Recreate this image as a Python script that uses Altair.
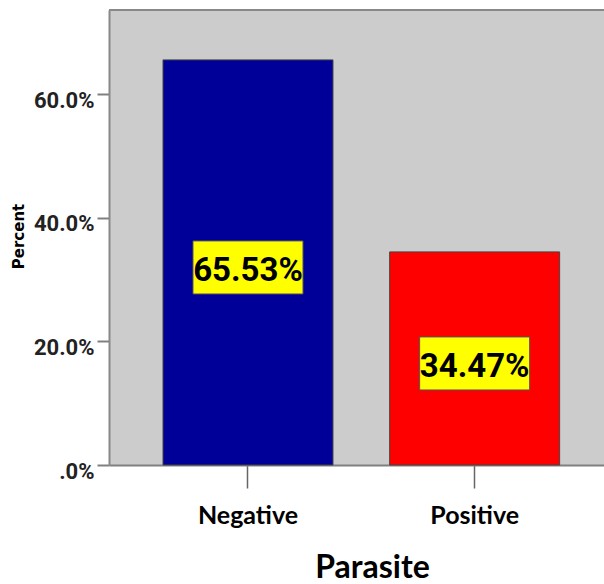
import altair as alt
import pandas as pd

categories = ["Negative", "Positive"]
percents = [65.53, 34.47]
bar_labels = ["65.53%", "34.47%"]
bar_colors = ["#000099", "#FF0000"]

df = pd.DataFrame({"category": categories, "percent": percents, "label": bar_labels})

NARROW = "Roboto, sans-serif"

x_enc = alt.X(
    "category:N",
    sort=categories,
    scale=alt.Scale(paddingInner=0.25, paddingOuter=0.217, align=0.549),
    axis=alt.Axis(
        title="Parasite",
        titleFont="Lato", titleFontSize=32, titleFontWeight="bold", titleColor="black",
        titleX=263, titleY=112, titleAlign="center", titleBaseline="alphabetic",
        labelFont="Lato", labelFontSize=25, labelFontWeight="bold", labelColor="black",
        labelAngle=0, labelBaseline="alphabetic", labelPadding=35,
        tickSize=23, tickColor="#666666", tickWidth=1.5,
        domainColor="#808080", domainWidth=2,
    ),
)

base = alt.Chart(df).encode(x=x_enc)

bars = base.mark_bar(stroke="#444444", strokeWidth=1).encode(
    y=alt.Y(
        "percent:Q",
        scale=alt.Scale(domain=[0, 73.6], nice=False),
        axis=alt.Axis(
            values=[0, 20, 40, 60],
            labelExpr="datum.value == 0 ? '.0%' : format(datum.value, '.1f') + '%'",
            labelFont=NARROW, labelFontSize=22, labelFontWeight="bold", labelColor="#222222",
            labelBaseline="alphabetic", labelOffset=13, labelPadding=3,
            tickSize=12, tickColor="#808080", tickWidth=2,
            domainColor="#888888", domainWidth=2, grid=False,
            title="Percent", titleFont="DejaVu Sans", titleFontSize=15, titleFontWeight="bold",
            titleColor="black", titleAngle=270, titleX=-91, titleY=226,
            titleAlign="center", titleBaseline="middle",
        ),
    ),
    color=alt.Color("category:N", scale=alt.Scale(domain=categories, range=bar_colors), legend=None),
)

boxes = base.transform_calculate(mid="datum.percent / 2").mark_point(
    shape="M-1,-0.482H1V0.482H-1Z", size=12100, filled=True,
    fill="#FFFF00", stroke="#555555", strokeWidth=1, opacity=1, yOffset=5,
).encode(y=alt.Y("mid:Q"))

texts = base.transform_calculate(mid="datum.percent / 2").mark_text(
    font=NARROW, fontSize=33, fontWeight="bold", color="black",
    baseline="alphabetic", align="center", dy=19,
).encode(y=alt.Y("mid:Q"), text="label:N")

top_rule = alt.Chart(df).mark_rule(color="#888888", strokeWidth=2).encode(
    x=alt.value(0), x2=alt.value(495), y=alt.value(0)
)

chart = alt.layer(bars, boxes, texts, top_rule).properties(
    width=495, height=455,
    padding={"left": 109, "top": 10, "right": 0, "bottom": 119},
    autosize=alt.AutoSizeParams(type="none"),
).configure_view(fill="#CCCCCC", stroke=None)

chart.save("out.html", embed_options={"renderer": "svg", "actions": False})
